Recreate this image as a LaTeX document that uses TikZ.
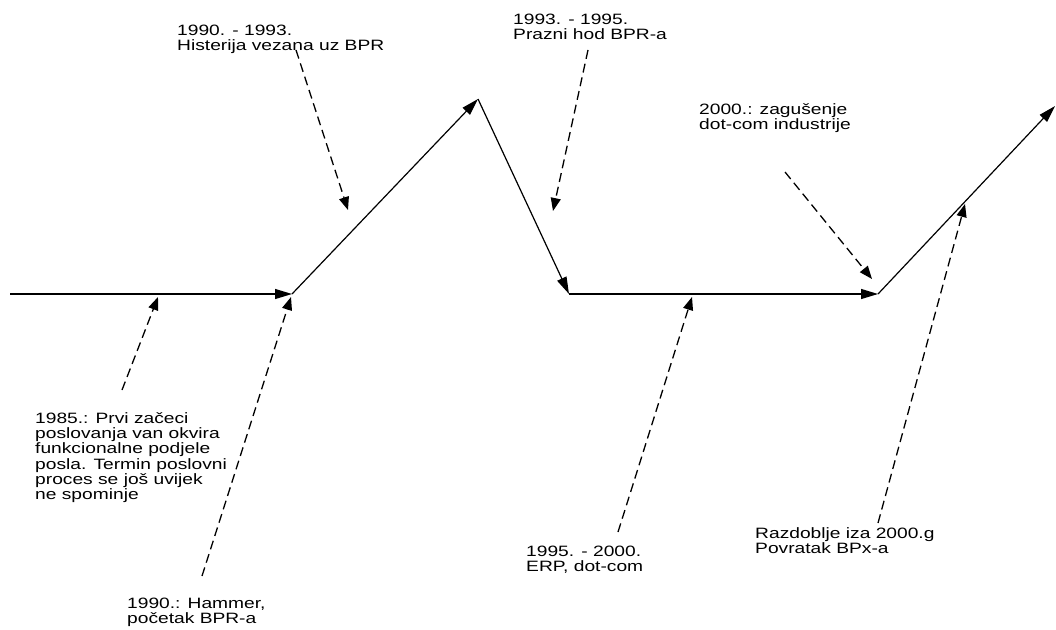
\documentclass[tikz,border=0pt]{standalone}
\usepackage{fontspec}
\setmainfont{Liberation Sans}[FakeStretch=1.28]
\usetikzlibrary{arrows.meta}
\begin{document}
\begin{tikzpicture}[x=1pt,y=-1pt,
  lbl/.style={anchor=north west, inner sep=0pt, align=left, font=\fontsize{15}{15.3}\selectfont},
  mainline/.style={line width=1.2pt, -{Triangle[length=17pt,width=10pt]}},
  dsh/.style={line width=1.3pt, dash pattern=on 9pt off 5pt, -{Triangle[length=13pt,width=10pt]}}]
\useasboundingbox (0,0) rectangle (1056,629);
\fill[white] (0,0) rectangle (1056,629);
% main path points
\coordinate (A) at (10,294);
\coordinate (B) at (292,294);
\coordinate (C) at (478,99);
\coordinate (D) at (569,294);
\coordinate (E) at (878,294);
\coordinate (F) at (1055,106);
\draw[mainline] (A) -- (B);
\draw[mainline] (B) -- (C);
\draw[mainline] (C) -- (D);
\draw[mainline] (D) -- (E);
\draw[mainline] (E) -- (F);
% labels
\node[lbl] (t85) at (35,412) {1985.: Prvi začeci\\poslovanja van okvira\\funkcionalne podjele\\posla. Termin poslovni\\proces se još uvijek\\ne spominje};
\node[lbl] (t90) at (127,598) {1990.: Hammer,\\početak BPR-a};
\node[lbl] (t9093) at (177,25) {1990. - 1993.\\Histerija vezana uz BPR};
\node[lbl] (t9395) at (513,14) {1993. - 1995.\\Prazni hod BPR-a};
\node[lbl] (t00) at (699,103) {2000.: zagušenje\\dot-com industrije};
\node[lbl] (t9500) at (526,546) {1995. - 2000.\\ERP, dot-com};
\node[lbl] (tpost) at (755,527) {Razdoblje iza 2000.g\\Povratak BPx-a};
% dashed pointer ends
\coordinate (s1) at (122,390); \coordinate (e1) at (158,297);
\coordinate (s2) at (202,576); \coordinate (e2) at (291,297);
\coordinate (s3) at (296,50);  \coordinate (e3) at (348,210);
\coordinate (s4) at (588,50);  \coordinate (e4) at (553,211);
\coordinate (s5) at (785,172); \coordinate (e5) at (872,279);
\coordinate (s6) at (878,523); \coordinate (e6) at (965,204);
\coordinate (s7) at (618,532); \coordinate (e7) at (692,297);
\draw[dsh] (s1) -- (e1);
\draw[dsh] (s2) -- (e2);
\draw[dsh] (s3) -- (e3);
\draw[dsh] (s4) -- (e4);
\draw[dsh] (s5) -- (e5);
\draw[dsh] (s6) -- (e6);
\draw[dsh] (s7) -- (e7);
\end{tikzpicture}
\end{document}
